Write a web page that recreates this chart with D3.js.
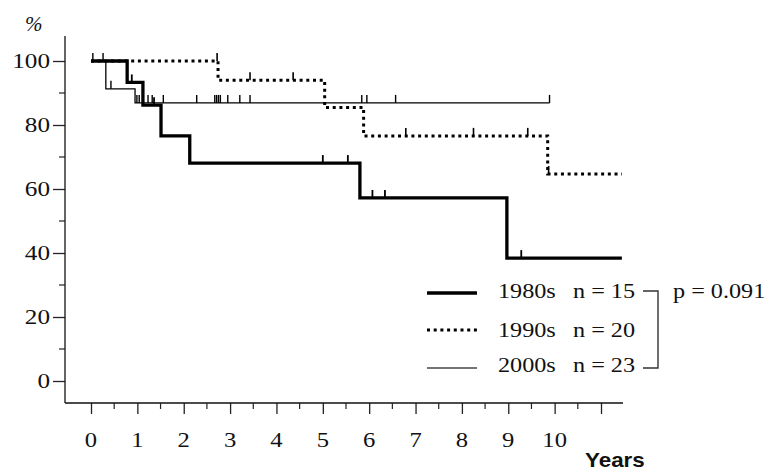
<!DOCTYPE html>
<html>
<head>
<meta charset="utf-8">
<script src="https://cdn.jsdelivr.net/npm/d3@7"></script>
<style>
  body { margin: 0; background: #fff; }
  svg { display: block; }
</style>
</head>
<body>
<svg id="chart" width="769" height="472"></svg>
<script>
// survival steps (years, %)
const groups = ["1980s", "1990s", "2000s"];
const counts = [15, 20, 23];

const times80 = [0, 0.78, 1.12, 1.51, 2.13, 5.80, 8.97];
const surv80  = [100, 93.3, 86.2, 76.6, 68.1, 57.2, 38.4];
const end80 = 11.45;
const censor80 = [0.88, 1.36, 5.00, 5.54, 6.07, 6.34, 9.28];

const times90 = [0, 2.74, 5.04, 5.88, 9.85];
const surv90  = [100, 94.0, 85.5, 76.6, 64.7];
const end90 = 11.45;
const censor90 = [2.72, 3.43, 4.36, 6.79, 8.25, 9.42, 9.87];

const times00 = [0, 0.32, 0.95];
const surv00  = [100, 91.3, 86.9];
const end00 = 9.89;
const censor00 = [0.04, 0.26, 0.43, 0.99, 1.04, 1.23, 1.32, 1.56, 2.28, 2.67, 2.71, 2.75, 2.79,
                  2.95, 3.21, 3.43, 5.84, 5.95, 6.57, 9.89];

const xTicks = d3.range(0, 12);          // 0..11, labels only 0..10
const xMinor = d3.range(0.5, 11, 1);
const yTicks = [0, 20, 40, 60, 80, 100];
const yMinor = [10, 30, 50, 70, 90];
const pValue = "p = 0.091";

const SERIF = "'Liberation Serif', 'DejaVu Serif', serif";
const svg = d3.select("#chart");
const x = d3.scaleLinear().domain([0, 11]).range([91, 601]);
const y = d3.scaleLinear().domain([0, 100]).range([381, 61]);

// stretched serif text like the scanned figure
function label(sel, px, py, str, anchor, size, sx) {
  sel.append("g")
    .attr("transform", `translate(${px},${py}) scale(${sx},1)`)
    .append("text")
    .attr("font-family", SERIF)
    .attr("fill", "#111")
    .attr("text-anchor", anchor || "start")
    .attr("font-size", size)
    .text(str);
}

// axes
const axisX = svg.append("g").attr("transform", "translate(0,403)");
axisX.call(d3.axisBottom(x).tickValues(xTicks).tickSize(11).tickFormat(""))
  .call(g => g.select(".domain").remove());
axisX.append("line").attr("x1", 65).attr("x2", 623).attr("stroke", "#111").attr("stroke-width", 1.3);
axisX.selectAll(".tick line").attr("stroke", "#222").attr("stroke-width", 1.3);
axisX.selectAll(".minor").data(xMinor).join("line")
  .attr("x1", d => x(d)).attr("x2", d => x(d)).attr("y1", 0).attr("y2", 6)
  .attr("stroke", "#222").attr("stroke-width", 1.2);
xTicks.filter(d => d <= 10).forEach(d => label(svg, x(d), 447, String(d), "middle", 22, 1.12));

const axisY = svg.append("g").attr("transform", "translate(65,0)");
axisY.call(d3.axisLeft(y).tickValues(yTicks).tickSize(12).tickFormat(""))
  .call(g => g.select(".domain").remove());
axisY.append("line").attr("y1", 36).attr("y2", 403).attr("stroke", "#111").attr("stroke-width", 1.3);
axisY.selectAll(".tick line").attr("stroke", "#222").attr("stroke-width", 1.3);
axisY.selectAll(".minor").data(yMinor).join("line")
  .attr("x1", -6).attr("x2", 0).attr("y1", d => y(d)).attr("y2", d => y(d))
  .attr("stroke", "#222").attr("stroke-width", 1.2);
yTicks.forEach(d => label(svg, 50, y(d) + 7, String(d), "end", 21, 1.2));

svg.append("text").attr("x", 25).attr("y", 31).attr("font-size", 21)
  .attr("font-family", SERIF).attr("font-style", "italic").attr("fill", "#111").text("%");
svg.append("text").attr("x", 0).attr("y", 0).attr("font-size", 20)
  .attr("font-weight", "bold").attr("fill", "#111")
  .attr("font-family", "'Liberation Sans', Arial, sans-serif")
  .attr("transform", "translate(585,467) scale(1.12,1)")
  .text("Years");

// curves
const stepLine = d3.line().x(d => x(d[0])).y(d => y(d[1])).curve(d3.curveStepAfter);
function levelAt(times, surv, t) {
  let v = surv[0];
  times.forEach((tt, i) => { if (tt <= t) v = surv[i]; });
  return v;
}
const series = [
  { times: times90, surv: surv90, end: end90, censor: censor90, w: 3, dash: "3,3.7", tw: 1.6, th: 8 },
  { times: times00, surv: surv00, end: end00, censor: censor00, w: 1.3, dash: null, tw: 1.4, th: 8 },
  { times: times80, surv: surv80, end: end80, censor: censor80, w: 3.3, dash: null, tw: 1.8, th: 8 }
];
series.forEach(s => {
  const pts = s.times.map((t, i) => [t, s.surv[i]]);
  pts.push([s.end, s.surv[s.surv.length - 1]]);
  svg.append("path").attr("d", stepLine(pts)).attr("fill", "none")
    .attr("stroke", "#000").attr("stroke-width", s.w)
    .attr("stroke-dasharray", s.dash);
  svg.append("g").selectAll("line").data(s.censor).join("line")
    .attr("x1", d => x(d)).attr("x2", d => x(d))
    .attr("y1", d => y(levelAt(s.times, s.surv, d)))
    .attr("y2", d => y(levelAt(s.times, s.surv, d)) - s.th)
    .attr("stroke", "#000").attr("stroke-width", s.tw);
});

// legend
const legRows = [
  { lineY: 293, textY: 298, w: 3.3, dash: null },
  { lineY: 330, textY: 337, w: 3, dash: "3,3.7" },
  { lineY: 368, textY: 372, w: 1.3, dash: null }
];
legRows.forEach((r, i) => {
  svg.append("line").attr("x1", 427).attr("x2", 477).attr("y1", r.lineY).attr("y2", r.lineY)
    .attr("stroke", i === 2 ? "#444" : "#000").attr("stroke-width", r.w).attr("stroke-dasharray", r.dash);
  label(svg, 498, r.textY, groups[i], "start", 22, 1.1);
  label(svg, 573, r.textY, "n = " + counts[i], "start", 22, 1.1);
});
svg.append("path").attr("d", "M643,291H658V368H643").attr("fill", "none")
  .attr("stroke", "#333").attr("stroke-width", 1.4);
label(svg, 673, 298, pValue, "start", 22, 1.1);
</script>
</body>
</html>
